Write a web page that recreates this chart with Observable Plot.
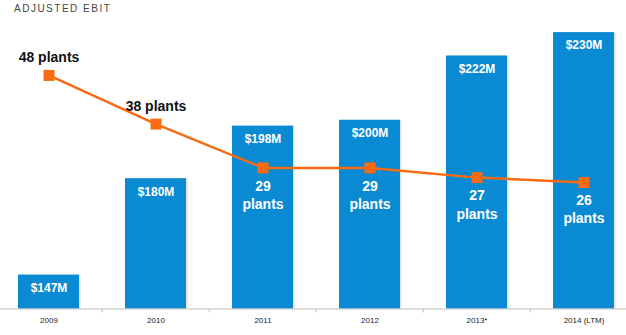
<!DOCTYPE html>
<html>
<head>
<meta charset="utf-8">
<script src="https://cdn.jsdelivr.net/npm/d3@7"></script>
<script src="https://cdn.jsdelivr.net/npm/@observablehq/plot@0.6"></script>
<style>
  html, body { margin: 0; padding: 0; background: #fff; }
  #wrap { position: relative; width: 626px; height: 335px; overflow: hidden; }
  #title { position: absolute; left: 14px; top: 3px; font: 10px "Liberation Sans", Arial, sans-serif; letter-spacing: 1.5px; color: #444; }
  svg { display: block; }
</style>
</head>
<body>
<div id="wrap">
  <div id="title">ADJUSTED EBIT</div>
</div>
<script>
// ---- data ----
const years = ["2009", "2010", "2011", "2012", "2013*", "2014 (LTM)"];
const ebit = [147, 180, 198, 200, 222, 230];      // $M
const plants = [48, 38, 29, 29, 27, 26];          // number of plants

// ---- scales setup ----
const yBase = 135.4, yTop = 241;                  // truncated EBIT axis
const plantMax = 63.4;                            // secondary axis: plants, from 0
const plantY = d3.scaleLinear().domain([0, plantMax]).range([yBase, yTop]);
const xRange = [-6.5, 638.5];
const step = (xRange[1] - xRange[0]) / years.length;

const data = years.map((year, i) => ({year, ebit: ebit[i], plants: plants[i]}));
const above = d => plantY(d.plants) > d.ebit;

const blue = "#0a8ad2", orange = "#fa6a12";
const font = "Liberation Sans, Arial, sans-serif";

const chart = Plot.plot({
  width: 626,
  height: 335,
  marginTop: 0,
  marginBottom: 26.5,
  marginLeft: 0,
  marginRight: 0,
  style: {fontFamily: font, background: "white"},
  x: {type: "band", domain: years, range: xRange, paddingInner: 0.43, paddingOuter: 0.215, axis: null, label: null},
  y: {domain: [yBase, yTop], axis: null},
  marks: [
    Plot.barY(data, {x: "year", y1: yBase, y2: "ebit", fill: "#e2e2e2", dx: 1.5}),
    Plot.barY(data, {x: "year", y1: yBase, y2: "ebit", fill: blue}),
    Plot.ruleY([yBase], {stroke: "#bdbdbd", strokeWidth: 1}),
    Plot.axisX(years.slice(1), {tickSize: 4, tickFormat: () => "", dx: -step / 2, stroke: "#bdbdbd", label: null}),
    Plot.axisX({tickSize: 0, tickPadding: 8, fontSize: 8, fill: "#222", fontFamily: font, label: null}),
    Plot.text(data, {x: "year", y: "ebit", text: d => `$${d.ebit}M`, dy: 13, fill: "white",
      fontWeight: "bold", fontSize: 12, fontFamily: font}),
    Plot.line(data, {x: "year", y: d => plantY(d.plants), stroke: orange, strokeWidth: 2.5}),
    Plot.dot(data, {x: "year", y: d => plantY(d.plants), symbol: "square", r: 6.2, fill: orange, stroke: "none"}),
    Plot.text(data.filter(above), {x: "year", y: d => plantY(d.plants), text: d => `${d.plants} plants`,
      dy: -18, fill: "#111", fontWeight: "bold", fontSize: 14, fontFamily: font}),
    Plot.text(data.filter(d => !above(d)), {x: "year", y: d => plantY(d.plants), text: d => `${d.plants}\nplants`,
      dy: 26, lineHeight: 1.3, fill: "white", fontWeight: "bold", fontSize: 14, fontFamily: font})
  ]
});
document.getElementById("wrap").prepend(chart);
</script>
</body>
</html>
